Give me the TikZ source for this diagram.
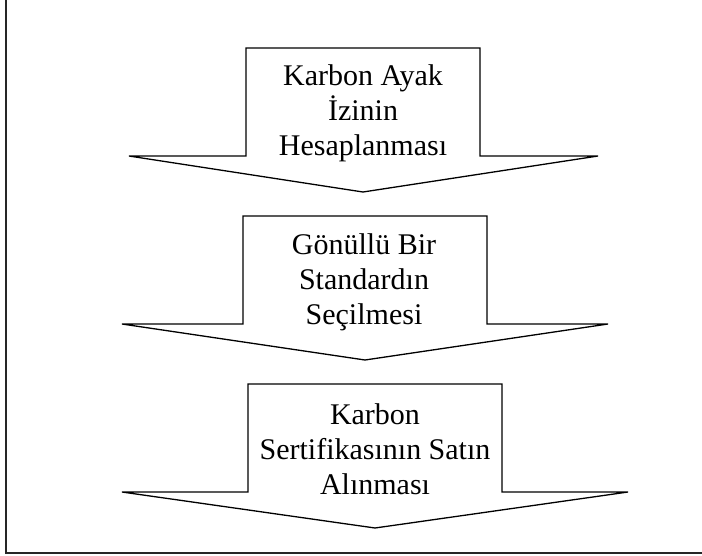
\documentclass[tikz,border=0pt]{standalone}
\usepackage{fontspec}
\setmainfont{Liberation Serif}
\begin{document}
\begin{tikzpicture}[x=1pt,y=-1pt,
  blockarrow/.style={draw=black,line width=1.3pt,fill=white,line join=miter},
  steptext/.style={align=center,inner sep=0pt,font=\fontsize{30}{35}\selectfont},
  frameline/.style={draw=black!85,line width=2pt}]
\useasboundingbox (0,0) rectangle (702,555);
\clip (0,0) rectangle (702,555);
% outer frame (top and right edges lie outside)
\draw[frameline] (6,-10) -- (6,553) -- (712,553);
% step 1
\draw[blockarrow] (246,48) -- (480,48) -- (480,156) -- (598,156) -- (363,192)
  -- (129,156) -- (246,156) -- cycle;
\node[steptext] (s1) at (363,113) {Karbon Ayak\\İzinin\\Hesaplanması};
% step 2
\draw[blockarrow] (243,216) -- (487,216) -- (487,324) -- (608,324) -- (365,360)
  -- (122,324) -- (243,324) -- cycle;
\node[steptext] (s2) at (364,282) {Gönüllü Bir\\Standardın\\Seçilmesi};
% step 3
\draw[blockarrow] (248,384) -- (502,384) -- (502,492) -- (628,492) -- (375,528)
  -- (122,492) -- (248,492) -- cycle;
\node[steptext] (s3) at (375,449) {Karbon\\Sertifikasının Satın\\Alınması};
\end{tikzpicture}
\end{document}
